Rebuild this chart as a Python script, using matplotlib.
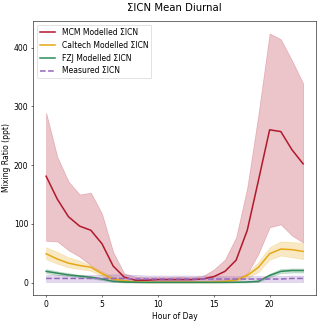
import numpy as np
import matplotlib
matplotlib.use("Agg")
import matplotlib.pyplot as plt

hours = list(range(24))

# MCM modelled (mean, lower, upper)
mcm = [181, 142, 112, 96, 89, 66, 28, 9, 4, 4, 5, 5, 5, 5, 6, 10, 19, 38, 89, 174, 260, 257, 226, 202]
mcm_lo = [71, 70, 55, 44, 29, 15, 4, 1, 1, 1, 2, 2, 2, 2, 2, 4, 4, 6, 15, 49, 94, 99, 80, 68]
mcm_hi = [289, 214, 172, 150, 153, 117, 52, 15, 10, 9, 9, 9, 10, 9, 11, 22, 39, 77, 162, 287, 424, 414, 378, 339]

# Caltech modelled
caltech = [49, 40, 33, 29, 26, 15, 6, 3, 1, 0.5, 0.5, 0.5, 0.5, 0.5, 0.5, 1, 2, 4, 12, 26, 49, 57, 56, 53]
caltech_lo = [40, 32, 26, 23, 20, 11, 3, 1, 0, 0, 0, 0, 0, 0, 0, 0, 1, 2, 8, 18, 39, 46, 43, 40]
caltech_hi = [60, 52, 43, 37, 29, 19, 9, 5, 2, 1, 1, 1, 1, 1, 1, 2, 3, 6, 16, 35, 60, 70, 69, 67]

# FZJ modelled
fzj = [19, 16, 13, 11, 9, 6, 2, 1, 0.5, 0.3, 0.3, 0.3, 0.3, 0.3, 0.3, 0.3, 0.3, 0.5, 1, 2, 12, 19, 20.5, 20.5]
fzj_lo = [16, 13, 11, 9, 7, 4, 1, 0, 0, 0, 0, 0, 0, 0, 0, 0, 0, 0, 0, 1, 9, 16, 17, 17]
fzj_hi = [23, 19, 16, 13, 11, 8, 3, 2, 1, 1, 1, 1, 1, 1, 1, 1, 1, 1, 2, 4, 15, 23, 24, 24]

# Measured
meas = [7, 7, 7, 7, 7, 7, 7, 7, 6, 6, 6, 6, 6, 6, 6, 6, 6, 6, 6, 6, 6, 6, 7, 7]
meas_lo = [1, 1, 1, 1, 1, 1, 1, 1, 1, 1, 1, 1, 1, 1, 1, 1, 1, 1, 1, 1, 1, 1, 1, 1]
meas_hi = [13, 13, 13, 13, 13, 13, 14, 14, 13, 12, 12, 12, 12, 12, 12, 12, 11, 11, 11, 11, 11, 11, 12, 12]

series = [
    ("MCM Modelled ΣICN", mcm, mcm_lo, mcm_hi, "#b2182b", "-"),
    ("Caltech Modelled ΣICN", caltech, caltech_lo, caltech_hi, "#e6a817", "-"),
    ("FZJ Modelled ΣICN", fzj, fzj_lo, fzj_hi, "#2e8b57", "-"),
    ("Measured ΣICN", meas, meas_lo, meas_hi, "#9467bd", "--"),
]

plt.rcParams["font.size"] = 11

fig, ax = plt.subplots(figsize=(6.4, 6.42), dpi=50)
fig.subplots_adjust(left=0.104, right=0.9875, top=0.9346, bottom=0.081)

for label, y, lo, hi, c, ls in series:
    ax.fill_between(hours, lo, hi, color=c, alpha=0.25)
    ax.plot(hours, y, color=c, linestyle=ls, linewidth=2.2, label=label)

ax.set_xlabel("Hour of Day")
ax.set_ylabel("Mixing Ratio (ppt)")
ax.set_title("ΣICN Mean Diurnal", fontsize=14.5, pad=14)
ax.legend(loc="upper left")

fig.savefig("out.png", dpi=50)
